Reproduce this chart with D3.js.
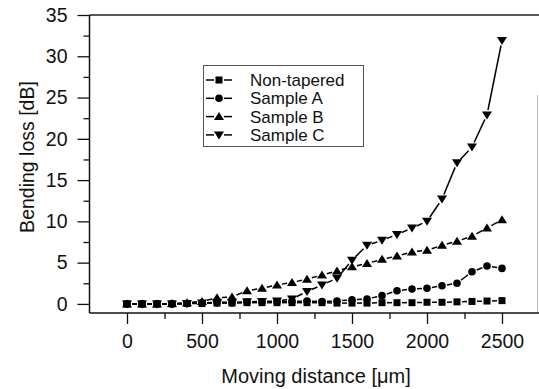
<!DOCTYPE html>
<html>
<head>
<meta charset="utf-8">
<script src="https://cdn.jsdelivr.net/npm/d3@7"></script>
<style>
	body { margin: 0; background: #fff; }
	svg { display: block; font-family: "Liberation Sans", Arial, sans-serif; }
</style>
</head>
<body>
<svg width="539" height="389"></svg>
<script>
const distance = [0, 100, 200, 300, 400, 500, 600, 700, 800, 900, 1000, 1100, 1200,
	1300, 1400, 1500, 1600, 1700, 1800, 1900, 2000, 2100, 2200, 2300, 2400, 2500];

const nonTapered = [0, 0, 0, 0, 0.05, 0.05, 0.1, 0.1, 0.15, 0.15, 0.15, 0.15, 0.15,
	0.15, 0.1, 0.1, 0.1, 0.15, 0.15, 0.15, 0.2, 0.2, 0.25, 0.3, 0.35, 0.4];
const sampleA = [0, 0, 0, 0, 0.05, 0.1, 0.15, 0.15, 0.2, 0.2, 0.25, 0.3, 0.35,
	0.3, 0.35, 0.5, 0.6, 1.0, 1.6, 1.8, 1.9, 2.2, 2.5, 3.9, 4.6, 4.3];
const sampleB = [0, 0, 0, 0.05, 0.15, 0.3, 0.75, 0.85, 1.6, 1.9, 2.3, 2.6, 3.0,
	3.5, 4.0, 4.5, 4.9, 5.4, 5.8, 6.3, 6.5, 7.1, 7.6, 8.2, 9.2, 10.2];
const sampleC = [0, 0, 0, 0, 0.05, 0.1, 0.2, 0.2, 0.25, 0.3, 0.35, 0.6, 1.5,
	2.3, 3.1, 5.3, 7.1, 7.7, 8.4, 9.2, 10.0, 12.7, 17.1, 19.0, 22.9, 31.9];

const seriesNames = ["Non-tapered", "Sample A", "Sample B", "Sample C"];
const seriesShapes = ["square", "circle", "up", "down"];
const seriesValues = [nonTapered, sampleA, sampleB, sampleC];

const xTicks = [0, 500, 1000, 1500, 2000, 2500];
const xMinorTicks = [250, 750, 1250, 1750, 2250];
const yTicks = [0, 5, 10, 15, 20, 25, 30, 35];
const yMinorTicks = [2.5, 7.5, 12.5, 17.5, 22.5, 27.5, 32.5];

const svg = d3.select("svg");

const x = d3.scaleLinear().domain([-250, 2750]).range([89.5, 539.5]);
const y = d3.scaleLinear().domain([-1.1, 35]).range([313, 15]);

// frame: top line and the faint right edge
svg.append("line")
	.attr("x1", 89.5).attr("x2", 539)
	.attr("y1", 15).attr("y2", 15)
	.attr("stroke", "#222").attr("stroke-width", 1.5);
svg.append("line")
	.attr("x1", 537.5).attr("x2", 537.5)
	.attr("y1", 95).attr("y2", 313)
	.attr("stroke", "#bbb").attr("stroke-width", 1);

// axes
const xAxis = svg.append("g")
	.attr("transform", "translate(0,313)")
	.call(d3.axisBottom(x).tickValues(xTicks).tickSize(11).tickPadding(10).tickFormat(d3.format("d")));
xAxis.append("g")
	.call(d3.axisBottom(x).tickValues(xMinorTicks).tickSize(6).tickFormat(""))
	.select(".domain").remove();

const yAxis = svg.append("g")
	.attr("transform", "translate(89.5,0)")
	.call(d3.axisLeft(y).tickValues(yTicks).tickSize(12).tickPadding(10).tickFormat(d3.format("d")));
yAxis.append("g")
	.call(d3.axisLeft(y).tickValues(yMinorTicks).tickSize(6).tickFormat(""))
	.select(".domain").remove();

svg.selectAll(".domain").attr("stroke", "#111").attr("stroke-width", 1.5);
svg.selectAll(".tick line").attr("stroke", "#111").attr("stroke-width", 1.3);
svg.selectAll(".tick text")
	.attr("font-size", 19.5)
	.attr("font-family", "Liberation Sans, Arial, sans-serif")
	.attr("fill", "#111");
xAxis.select(".domain").attr("d", "M89.5,0H539");
yAxis.select(".domain").attr("d", "M0,15V313");

// axis titles
svg.append("text")
	.attr("x", 316)
	.attr("y", 383)
	.attr("text-anchor", "middle")
	.attr("font-size", 20)
	.attr("fill", "#111")
	.text("Moving distance [μm]");

svg.append("text")
	.attr("transform", "translate(34,157) rotate(-90)")
	.attr("text-anchor", "middle")
	.attr("font-size", 19.5)
	.attr("fill", "#111")
	.text("Bending loss [dB]");

function marker(sel, shape) {
	if (shape === "square") {
		sel.append("rect").attr("x", -3.5).attr("y", -3.5).attr("width", 7).attr("height", 7);
	} else if (shape === "circle") {
		sel.append("circle").attr("r", 3.8);
	} else if (shape === "up") {
		sel.append("path").attr("d", "M0,-4.5L5,3.5L-5,3.5Z");
	} else {
		sel.append("path").attr("d", "M0,4.5L5,-3.5L-5,-3.5Z");
	}
}

// lines with a gap round every symbol, Origin style
const gap = 5;
const plot = svg.append("g");

seriesValues.forEach((values, i) => {
	const pts = distance.map((d, k) => [x(d), y(values[k])]);
	const segs = [];
	for (let k = 0; k < pts.length - 1; k++) {
		const [x1, y1] = pts[k];
		const [x2, y2] = pts[k + 1];
		const len = Math.hypot(x2 - x1, y2 - y1);
		if (len <= 2 * gap + 1) continue;
		const ux = (x2 - x1) / len, uy = (y2 - y1) / len;
		segs.push([x1 + ux * gap, y1 + uy * gap, x2 - ux * gap, y2 - uy * gap]);
	}
	plot.append("g")
		.selectAll("line")
		.data(segs)
		.join("line")
		.attr("x1", d => d[0]).attr("y1", d => d[1])
		.attr("x2", d => d[2]).attr("y2", d => d[3])
		.attr("stroke", "#000")
		.attr("stroke-width", 1.5);

	plot.append("g")
		.selectAll("g")
		.data(pts)
		.join("g")
		.attr("transform", d => `translate(${d[0]},${d[1]})`)
		.attr("fill", "#000")
		.each(function () { marker(d3.select(this), seriesShapes[i]); });
});

// legend
const legend = svg.append("g");
legend.append("rect")
	.attr("x", 203.5).attr("y", 65.5)
	.attr("width", 160).attr("height", 81)
	.attr("fill", "#fff")
	.attr("stroke", "#555")
	.attr("stroke-width", 1);

const row = legend.selectAll("g.row")
	.data(seriesNames)
	.join("g")
	.attr("class", "row")
	.attr("transform", (d, i) => `translate(0,${80 + i * 18.3})`);

row.append("line")
	.attr("x1", 206).attr("x2", 214)
	.attr("stroke", "#000").attr("stroke-width", 1.5);
row.append("line")
	.attr("x1", 224).attr("x2", 232)
	.attr("stroke", "#000").attr("stroke-width", 1.5);
row.append("g")
	.attr("transform", "translate(219,0)")
	.attr("fill", "#000")
	.each(function (d, i) { marker(d3.select(this), seriesShapes[i]); });
row.append("text")
	.attr("x", 250)
	.attr("dy", "0.36em")
	.attr("font-size", 17)
	.attr("fill", "#111")
	.text(d => d);
</script>
</body>
</html>
